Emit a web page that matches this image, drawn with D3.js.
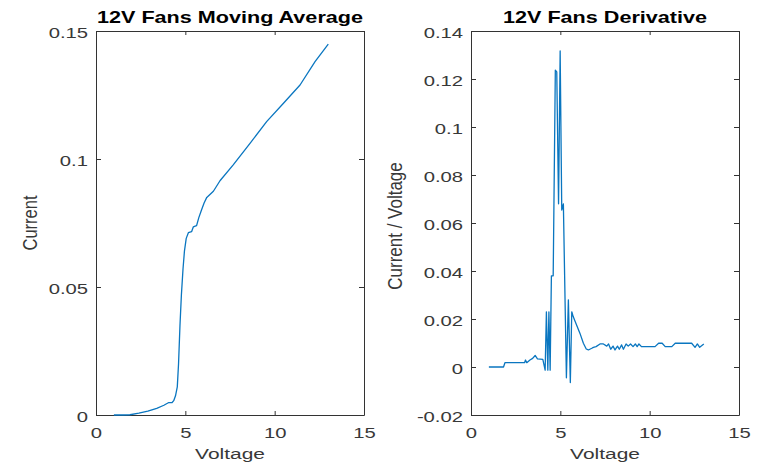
<!DOCTYPE html>
<html>
<head>
<meta charset="utf-8">
<script src="https://cdn.jsdelivr.net/npm/d3@7/dist/d3.min.js"></script>
<style>
  html, body { margin: 0; padding: 0; background: #ffffff; }
  svg { display: block; }
</style>
</head>
<body>
<svg id="chart" width="768" height="468"></svg>
<script>
// ---- data ----
const avgVoltage = [1.0, 1.5, 1.9, 2.4, 2.9, 3.4, 3.8, 4.05, 4.25, 4.35, 4.45, 4.55, 4.62, 4.7, 4.78, 4.87, 4.95, 5.05, 5.17, 5.35, 5.45, 5.55, 5.63, 5.75, 5.9, 6.05, 6.2, 6.57, 6.94, 7.68, 8.62, 9.55, 10.48, 11.42, 12.26, 13.0];
const avgCurrent = [0.0, 0.0, 0.0001, 0.0007, 0.0015, 0.0026, 0.0038, 0.0048, 0.0048, 0.0056, 0.0075, 0.011, 0.02, 0.035, 0.047, 0.057, 0.064, 0.069, 0.0712, 0.0716, 0.0735, 0.0738, 0.074, 0.077, 0.08, 0.0828, 0.0850, 0.0874, 0.0915, 0.0977, 0.1061, 0.1146, 0.1217, 0.1289, 0.138, 0.1449];

const derivVoltage = [1.0, 1.82, 1.9, 3.0, 3.05, 3.12, 3.3, 3.45, 3.59, 3.72, 4.02, 4.15, 4.22, 4.3, 4.36, 4.43, 4.5, 4.6, 4.72, 4.8, 4.9, 4.99, 5.08, 5.17, 5.34, 5.45, 5.56, 5.64, 5.72, 5.83, 6.1, 6.29, 6.45, 6.57, 6.76, 6.85, 7.0, 7.22, 7.41, 7.6, 7.7, 7.82, 7.95, 8.06, 8.2, 8.3, 8.43, 8.53, 8.68, 8.8, 8.93, 9.07, 9.2, 9.3, 9.4, 9.54, 10.3, 10.5, 10.7, 10.87, 11.24, 11.43, 12.35, 12.54, 12.67, 12.8, 13.03];
const derivValue = [0.0, 0.0, 0.0018, 0.0018, 0.0029, 0.0018, 0.0029, 0.0036, 0.0048, 0.0034, 0.0032, -0.0013, 0.023, -0.0013, 0.023, -0.0013, 0.038, 0.038, 0.1237, 0.123, 0.068, 0.1317, 0.0654, 0.068, -0.0045, 0.028, -0.0065, 0.023, 0.021, 0.019, 0.014, 0.0099, 0.0075, 0.0071, 0.0078, 0.0082, 0.0085, 0.0096, 0.0096, 0.0087, 0.0096, 0.0074, 0.0087, 0.0071, 0.0087, 0.0074, 0.0092, 0.0074, 0.0096, 0.0087, 0.0096, 0.0085, 0.0096, 0.0085, 0.0096, 0.0085, 0.0085, 0.0099, 0.0099, 0.0085, 0.0085, 0.0099, 0.0099, 0.0082, 0.0096, 0.0082, 0.0096];

const xTicks = [0, 5, 10, 15];
const leftYTicks = [0, 0.05, 0.1, 0.15];
const rightYTicks = [-0.02, 0, 0.02, 0.04, 0.06, 0.08, 0.1, 0.12, 0.14];
const titles = ["12V Fans Moving Average", "12V Fans Derivative"];
const yLabels = ["Current", "Current / Voltage"];
const xLabel = "Voltage";

// ---- drawing ----
const SX = 1.35;
const FONT = "'Liberation Sans', Arial, Helvetica, sans-serif";
const AXIS_COLOR = "#333333";
const TEXT_COLOR = "#383838";
const LINE_COLOR = "#0a76c0";
const svg = d3.select("#chart");
svg.append("rect").attr("width", 768).attr("height", 468).attr("fill", "#fff");

const fmt = d => String(+(+d).toFixed(2));

function stretchTexts(g) {
  g.selectAll(".tick text").each(function () {
    const t = d3.select(this);
    const x = +t.attr("x") || 0;
    t.attr("x", 0).attr("transform", `translate(${x},0) scale(${SX},1)`);
  });
}

function panel(cfg) {
  const x = d3.scaleLinear().domain([0, 15]).range([cfg.left, cfg.right]);
  const y = d3.scaleLinear().domain(cfg.yDomain).range([cfg.bottom, cfg.top]);

  const styleAxis = g => {
    g.attr("font-family", FONT).attr("font-size", 15);
    g.select(".domain").attr("stroke", AXIS_COLOR).attr("stroke-width", 1);
    g.selectAll(".tick line").attr("stroke", AXIS_COLOR).attr("stroke-width", 1);
    g.selectAll(".tick text").attr("fill", TEXT_COLOR);
  };

  // bottom
  const gb = svg.append("g").attr("transform", `translate(0,${cfg.bottom})`)
    .call(d3.axisBottom(x).tickValues(xTicks).tickFormat(fmt).tickSizeInner(-4).tickSizeOuter(0).tickPadding(12));
  styleAxis(gb); stretchTexts(gb);
  // top
  const gt = svg.append("g").attr("transform", `translate(0,${cfg.top})`)
    .call(d3.axisTop(x).tickValues(xTicks).tickFormat("").tickSizeInner(-4).tickSizeOuter(0));
  styleAxis(gt);
  // left
  const gl = svg.append("g").attr("transform", `translate(${cfg.left},0)`)
    .call(d3.axisLeft(y).tickValues(cfg.yTicks).tickFormat(fmt).tickSizeInner(-5).tickSizeOuter(0).tickPadding(8));
  styleAxis(gl); stretchTexts(gl);
  gl.selectAll(".tick text").attr("dy", "0.4em");
  // right
  const gr = svg.append("g").attr("transform", `translate(${cfg.right},0)`)
    .call(d3.axisRight(y).tickValues(cfg.yTicks).tickFormat("").tickSizeInner(-5).tickSizeOuter(0));
  styleAxis(gr);

  // line
  const pts = cfg.xs.map((v, i) => [v, cfg.ys[i]]);
  svg.append("path")
    .datum(pts)
    .attr("fill", "none")
    .attr("stroke", LINE_COLOR)
    .attr("stroke-width", 1.3)
    .attr("stroke-linejoin", "round")
    .attr("d", d3.line().x(d => x(d[0])).y(d => y(d[1])));

  const cx = (cfg.left + cfg.right) / 2;
  // title
  svg.append("text")
    .attr("transform", `translate(${cx},23) scale(${SX},1)`)
    .attr("text-anchor", "middle")
    .attr("font-family", FONT).attr("font-weight", "bold").attr("font-size", 16)
    .attr("fill", "#000").text(cfg.title);
  // x label
  svg.append("text")
    .attr("transform", `translate(${cx},459) scale(${SX},1)`)
    .attr("text-anchor", "middle")
    .attr("font-family", FONT).attr("font-size", 15.5)
    .attr("fill", TEXT_COLOR).text(xLabel);
  // y label
  svg.append("text")
    .attr("transform", `translate(${cfg.ylabX},${cfg.ylabY}) scale(1.2,1) rotate(-90)`)
    .attr("text-anchor", "middle")
    .attr("font-family", FONT).attr("font-size", cfg.ylabSize)
    .attr("fill", TEXT_COLOR).text(cfg.yLabel);
}

panel({
  left: 96, right: 364, top: 31, bottom: 415,
  yDomain: [0, 0.15], yTicks: leftYTicks,
  xs: avgVoltage, ys: avgCurrent,
  title: titles[0], yLabel: yLabels[0], ylabX: 37, ylabY: 223, ylabSize: 16.5
});
panel({
  left: 471, right: 739, top: 31, bottom: 415,
  yDomain: [-0.02, 0.14], yTicks: rightYTicks,
  xs: derivVoltage, ys: derivValue,
  title: titles[1], yLabel: yLabels[1], ylabX: 402, ylabY: 226, ylabSize: 17
});
</script>
</body>
</html>
